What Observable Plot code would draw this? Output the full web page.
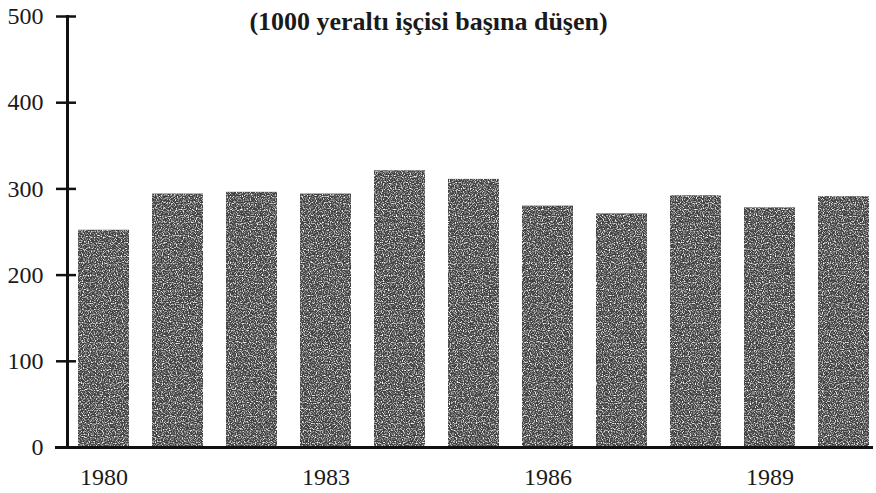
<!DOCTYPE html>
<html>
<head>
<meta charset="utf-8">
<script src="https://cdn.jsdelivr.net/npm/d3@7"></script>
<script src="https://cdn.jsdelivr.net/npm/@observablehq/plot@0.6"></script>
<style>
  html, body { margin: 0; padding: 0; background: #fff; }
</style>
</head>
<body>
<div id="chart"></div>
<script>
const years = ["1980","1981","1982","1983","1984","1985","1986","1987","1988","1989","1990"];
const values = [252, 294, 296, 294, 321, 311, 280, 271, 292, 278, 291];
const tickYears = ["1980","1983","1986","1989"];
const yTicks = [0, 100, 200, 300, 400, 500];
const title = "(1000 yeraltı işçisi başına düşen)";

const data = years.map((year, i) => ({year, value: values[i]}));

const W = 876, ML = 67, MR = 3;

const chart = Plot.plot({
  width: W,
  height: 493,
  marginLeft: ML,
  marginRight: MR,
  marginTop: 16,
  marginBottom: 46,
  style: {fontFamily: "'Liberation Serif', 'DejaVu Serif', serif", background: "white", color: "#1a1a1a"},
  x: {domain: years, range: [77, 869], paddingInner: 0.311, paddingOuter: 0, align: 0.5},
  y: {domain: [0, 500]},
  marks: [
    Plot.barY(data, {x: "year", y: "value", fill: "#404040"}),
    Plot.ruleY([0], {insetLeft: -12, strokeWidth: 3, stroke: "#111"}),
    Plot.frame({anchor: "left", strokeWidth: 3, stroke: "#111"}),
    Plot.tickY(yTicks, {y: d => d, insetLeft: -11, insetRight: W - ML - MR - 9, strokeWidth: 2.5, stroke: "#111"}),
    Plot.axisY(yTicks, {tickSize: 0, tickPadding: 24, fontSize: 24, label: null, fill: "#1a1a1a"}),
    Plot.axisX(tickYears, {tickSize: 0, tickPadding: 20, fontSize: 24, label: null, fill: "#1a1a1a"}),
    Plot.text([title], {frameAnchor: "top", dx: -42, dy: 5, lineAnchor: "middle", fontWeight: "bold", fontSize: 26, fill: "#1a1a1a"})
  ]
});

// printed-halftone grain on the bars (style only)
const ns = "http://www.w3.org/2000/svg";
const defs = document.createElementNS(ns, "defs");
defs.innerHTML = `
  <filter id="grain" x="0" y="0" width="100%" height="100%" color-interpolation-filters="sRGB">
    <feTurbulence type="fractalNoise" baseFrequency="0.85" numOctaves="1" seed="7" result="noise"/>
    <feColorMatrix in="noise" type="matrix"
      values="0 0 0 0 1  0 0 0 0 1  0 0 0 0 1  3.5 0 0 0 -1.6" result="speck"/>
    <feComposite in="speck" in2="SourceAlpha" operator="in" result="speckIn"/>
    <feMerge><feMergeNode in="SourceGraphic"/><feMergeNode in="speckIn"/></feMerge>
  </filter>`;
chart.insertBefore(defs, chart.firstChild);
const barGroup = chart.querySelector('g[aria-label="bar"]');
if (barGroup) barGroup.setAttribute("filter", "url(#grain)");

document.getElementById("chart").appendChild(chart);
</script>
</body>
</html>
